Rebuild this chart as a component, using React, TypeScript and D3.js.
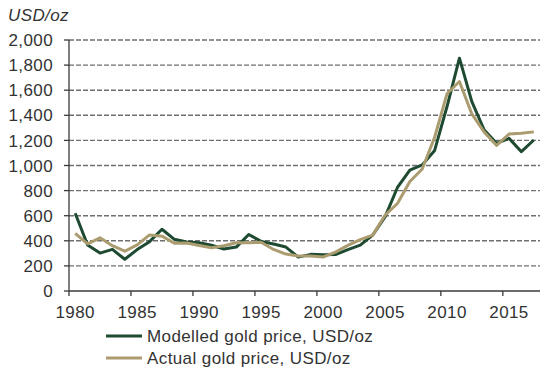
import * as d3 from 'd3';

const years = d3.range(1980, 2018);
const modelled = [
  619, 367, 302, 332, 253, 330, 393, 492, 412, 390,
  385, 365, 335, 350, 450, 395, 375, 350, 270, 292,
  288, 290, 330, 365, 445, 590, 825, 964, 1005, 1120,
  1470, 1855, 1509, 1283, 1177, 1217, 1110, 1203,
];
const actual = [
  460, 376, 424, 361, 317, 368, 447, 437, 381, 383,
  362, 344, 360, 384, 384, 388, 331, 294, 279, 279,
  271, 310, 363, 410, 445, 604, 697, 872, 972, 1225,
  1572, 1669, 1411, 1266, 1160, 1251, 1257, 1268,
];
const yTicks = [0, 200, 400, 600, 800, 1000, 1200, 1400, 1600, 1800, 2000];
const xTicks = [1980, 1985, 1990, 1995, 2000, 2005, 2010, 2015];

const series = [
  { name: 'Modelled gold price, USD/oz', values: modelled, color: '#1d4a31' },
  { name: 'Actual gold price, USD/oz', values: actual, color: '#ab9c70' },
];

export default function App() {
  const width = 550;
  const height = 370;
  const x = d3.scaleLinear().domain([1980, 2018]).range([69, 540]);
  const y = d3.scaleLinear().domain([0, 2000]).range([291, 40]);
  const font = '"Liberation Sans", Arial, sans-serif';
  const axisColor = '#3a3a3a';
  const fs = 17;
  const ls = 0.4;

  const line = (vals: number[]) =>
    d3.line<number>()
      .x((_, i) => x(years[i] + 0.5))
      .y(d => y(d))(vals) ?? '';

  return (
    <div style={{ position: 'absolute', left: 0, top: 0 }}>
      <svg width={width} height={height} style={{ display: 'block', background: '#fff' }}>
        <text x={8} y={21} fontFamily={font} fontStyle="italic" fontSize={fs} letterSpacing={ls} fill="#333">USD/oz</text>

        {/* grid */}
        {yTicks.filter(t => t > 0).map(t => (
          <line key={'g' + t} x1={x(1980)} x2={x(2018)} y1={y(t)} y2={y(t)}
            stroke="#6f6f6f" strokeWidth={1.4} strokeDasharray="5,2" />
        ))}

        {/* y axis */}
        <line x1={x(1980)} x2={x(1980)} y1={y(2000)} y2={y(0)} stroke={axisColor} strokeWidth={1.3} />
        {yTicks.map(t => (
          <g key={'y' + t}>
            <line x1={x(1980) - 5} x2={x(1980)} y1={y(t)} y2={y(t)} stroke={axisColor} strokeWidth={1.3} />
            <text x={53} y={y(t)} dy="0.36em" textAnchor="end" fontFamily={font} fontSize={fs} letterSpacing={ls} fill="#333">
              {d3.format(',')(t)}
            </text>
          </g>
        ))}

        {/* x axis */}
        <line x1={x(1980)} x2={x(2018)} y1={y(0)} y2={y(0)} stroke={axisColor} strokeWidth={1.3} />
        {xTicks.map(t => (
          <g key={'x' + t}>
            <line x1={x(t)} x2={x(t)} y1={y(0)} y2={y(0) + 5} stroke={axisColor} strokeWidth={1.3} />
            <text x={x(t + 0.5)} y={318} textAnchor="middle" fontFamily={font} fontSize={fs} letterSpacing={ls} fill="#333">{t}</text>
          </g>
        ))}

        {/* lines */}
        {series.map(s => (
          <path key={s.name} d={line(s.values)} fill="none" stroke={s.color} strokeWidth={3} strokeLinejoin="round" />
        ))}

        {/* legend */}
        {series.map((s, i) => (
          <g key={'l' + s.name} transform={`translate(106,${336 + i * 22})`}>
            <line x1={0} x2={36} y1={0} y2={0} stroke={s.color} strokeWidth={3} />
            <text x={41} y={0} dy="0.36em" fontFamily={font} fontSize={fs} letterSpacing={ls} fill="#333">{s.name}</text>
          </g>
        ))}
      </svg>
    </div>
  );
}
